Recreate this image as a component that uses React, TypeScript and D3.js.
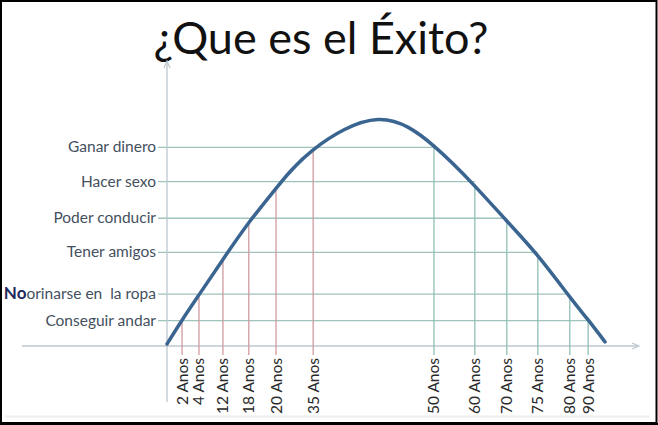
import React from "react";
import * as d3 from "d3";

// ---- data ----
const titleText = "¿Que es el Éxito?";

const ageLabels = ["2 Anos", "4 Anos", "12 Anos", "18 Anos", "20 Anos", "35 Anos",
  "50 Anos", "60 Anos", "70 Anos", "75 Anos", "80 Anos", "90 Anos"];
// horizontal position of each age (abstract axis units 0..100)
const agePositions = [3.2, 6.8, 11.9, 17.4, 23.2, 31.1, 56.8, 65.5, 72.3, 78.9, 85.7, 89.6];
// height of the curve at each age (axis units 0..10)
const curveAtAge = [1.02, 2.02, 3.42, 4.87, 6.23, 7.75, 7.9, 6.32, 4.94, 3.56, 1.94, 1.03];
const ageSide = ["rise", "rise", "rise", "rise", "rise", "rise",
  "fall", "fall", "fall", "fall", "fall", "fall"];

const goalBold = ["", "No", "", "", "", ""];
const goalLabels = ["Conseguir andar", "orinarse en  la ropa", "Tener amigos",
  "Poder conducir", "Hacer sexo", "Ganar dinero"];
const goalLevels = [1.0, 2.05, 3.7, 5.05, 6.5, 7.85];
// index of the age where each goal is lost again (end of horizontal line)
const goalLostAt = [11, 10, 9, 8, 7, 6];

const curveStart = [0, 0.08];
const curvePeak = [44.9, 8.95];
const curveEnd = [93.2, 0.16];

// ---- layout ----
const W = 658;
const H = 425;
const x0 = 167;
const x1 = 637;
const yAxisPx = 346;

export default function App() {
  const x = d3.scaleLinear().domain([0, 100]).range([x0, x1]);
  const y = d3.scaleLinear().domain([0, 10]).range([yAxisPx, yAxisPx - 253]);

  const risePts = agePositions.slice(0, 6).map((p, i) => [p, curveAtAge[i]]);
  const fallPts = agePositions.slice(6).map((p, i) => [p, curveAtAge[i + 6]]);
  const pts = [curveStart, ...risePts, curvePeak, ...fallPts, curveEnd];

  const line = d3
    .line<number[]>()
    .x((d) => x(d[0]))
    .y((d) => y(d[1]))
    .curve(d3.curveNatural);

  const font = "Lato, 'Open Sans', sans-serif";
  const labelX = 157;
  const tickBottom = 355;

  return (
    <svg
      width={W}
      height={H}
      style={{ position: "absolute", left: 0, top: 0, background: "#fff" }}
      fontFamily={font}
    >
      <rect x={0} y={0} width={W} height={H} fill="#fff" />
      {/* faint shadow line */}
      <line x1={5} x2={650} y1={416.5} y2={416.5} stroke="#eeeeee" strokeWidth={2} />

      <text x={321} y={54} textAnchor="middle" fontSize={45} fill="#111" fontFamily={font}>
        {titleText}
      </text>

      {/* horizontal goal lines */}
      {goalLevels.map((v, i) => (
        <line
          key={"h" + i}
          x1={labelX + 1}
          x2={x(agePositions[goalLostAt[i]])}
          y1={y(v)}
          y2={y(v)}
          stroke="#9fc3bd"
          strokeWidth={1.3}
        />
      ))}

      {/* axes */}
      <line x1={22} x2={638} y1={yAxisPx} y2={yAxisPx} stroke="#bcc8cf" strokeWidth={1.3} />
      <path d={`M632,${yAxisPx - 3} L639,${yAxisPx} L632,${yAxisPx + 3}`} fill="none" stroke="#bcc8cf" strokeWidth={1.2} />
      <line x1={x0} x2={x0} y1={62} y2={402} stroke="#bcc8cf" strokeWidth={1.3} />
      <path d={`M${x0 - 3},68 L${x0},61 L${x0 + 3},68`} fill="none" stroke="#bcc8cf" strokeWidth={1.2} />

      {/* vertical age lines */}
      {agePositions.map((p, i) => (
        <line
          key={"v" + i}
          x1={x(p)}
          x2={x(p)}
          y1={y(curveAtAge[i])}
          y2={tickBottom}
          stroke={ageSide[i] === "rise" ? "#cf9aa0" : "#8fc0b6"}
          strokeWidth={1.3}
        />
      ))}

      {/* curve */}
      <path d={line(pts) || ""} fill="none" stroke="#3b6591" strokeWidth={3.5} strokeLinecap="round" />

      {/* goal labels */}
      {goalLabels.map((t, i) => (
        <text
          key={"g" + i}
          x={labelX - 1}
          y={y(goalLevels[i]) + 5}
          textAnchor="end"
          fontSize={15.5}
          fill="#44505e"
          style={{ whiteSpace: "pre" }}
        >
          {goalBold[i] ? (
            <tspan fontWeight="bold" fontSize={17} fill="#1d2a5c">
              {goalBold[i]}
            </tspan>
          ) : null}
          <tspan>{t}</tspan>
        </text>
      ))}

      {/* age labels */}
      {ageLabels.map((t, i) => (
        <text
          key={"a" + i}
          transform={`translate(${x(agePositions[i]) + 5.5},${tickBottom + 3}) rotate(-90)`}
          textAnchor="end"
          fontSize={15.5}
          fill="#2a2a2a"
        >
          {t}
        </text>
      ))}

      {/* frame */}
      <rect x={1} y={1} width={W - 2.5} height={H - 3} fill="none" stroke="#000" strokeWidth={2} />
      <line x1={0} x2={W} y1={H - 1} y2={H - 1} stroke="#000" strokeWidth={2} />
    </svg>
  );
}
